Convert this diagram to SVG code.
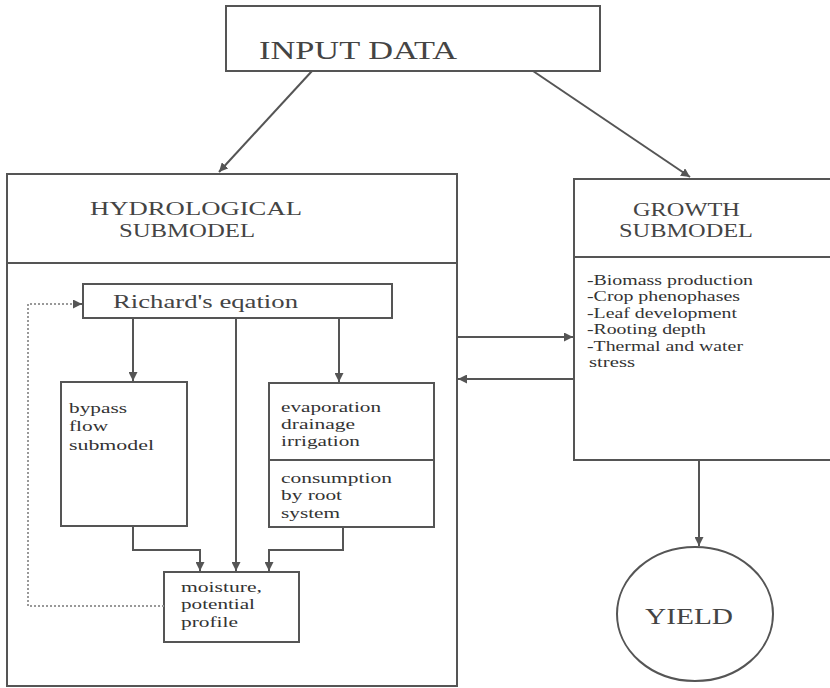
<svg xmlns="http://www.w3.org/2000/svg" width="830" height="688" viewBox="0 0 830 688">
<defs>
<marker id="ah" viewBox="0 0 10 10" refX="10" refY="5" markerWidth="9" markerHeight="9" markerUnits="userSpaceOnUse" orient="auto">
<path d="M0,0 L10,5 L0,10 z" fill="#555"/>
</marker>
</defs>
<style>
.box{fill:none;stroke:#555;stroke-width:2}
.ln{fill:none;stroke:#555;stroke-width:2}
.arr{fill:none;stroke:#555;stroke-width:2;marker-end:url(#ah)}
.dot{fill:none;stroke:#999;stroke-width:2;stroke-dasharray:2 2}
.t{font-family:"Liberation Serif",serif;fill:#444}
.big{font-size:19px}
.sm{font-size:15.5px;fill:#333}
.li{font-size:14.5px;fill:#333}
</style>
<rect width="830" height="688" fill="#fff"/>
<g id="input-data">
<rect class="box" x="226" y="6" width="374" height="65"/>
<text class="t" x="259" y="59" font-size="25" textLength="198" lengthAdjust="spacingAndGlyphs">INPUT DATA</text>
</g>
<g id="hydrological">
<rect class="box" x="7" y="174" width="450" height="512"/>
<line class="ln" x1="7" y1="263" x2="457" y2="263"/>
<text class="t big" x="90" y="215" textLength="212" lengthAdjust="spacingAndGlyphs">HYDROLOGICAL</text>
<text class="t big" x="119" y="237" textLength="136" lengthAdjust="spacingAndGlyphs">SUBMODEL</text>
</g>
<g id="richards">
<rect class="box" x="83" y="284" width="309" height="34"/>
<text class="t" x="113" y="308" font-size="19" textLength="185" lengthAdjust="spacingAndGlyphs">Richard's eqation</text>
</g>
<g id="bypass">
<rect class="box" x="61" y="382" width="126" height="144"/>
<text class="t sm" x="69" y="413" textLength="58" lengthAdjust="spacingAndGlyphs">bypass</text>
<text class="t sm" x="69" y="431" textLength="39" lengthAdjust="spacingAndGlyphs">flow</text>
<text class="t sm" x="69" y="450" textLength="85" lengthAdjust="spacingAndGlyphs">submodel</text>
</g>
<g id="evaporation">
<rect class="box" x="269" y="383" width="165" height="144"/>
<line class="ln" x1="269" y1="460" x2="434" y2="460"/>
<text class="t sm" x="281" y="412" textLength="100" lengthAdjust="spacingAndGlyphs">evaporation</text>
<text class="t sm" x="281" y="429" textLength="74" lengthAdjust="spacingAndGlyphs">drainage</text>
<text class="t sm" x="281" y="446" textLength="79" lengthAdjust="spacingAndGlyphs">irrigation</text>
<text class="t sm" x="281" y="483" textLength="111" lengthAdjust="spacingAndGlyphs">consumption</text>
<text class="t sm" x="281" y="500" textLength="61" lengthAdjust="spacingAndGlyphs">by root</text>
<text class="t sm" x="281" y="518" textLength="59" lengthAdjust="spacingAndGlyphs">system</text>
</g>
<g id="moisture">
<rect class="box" x="164" y="572" width="135" height="70"/>
<text class="t sm" x="181" y="592" textLength="81" lengthAdjust="spacingAndGlyphs">moisture,</text>
<text class="t sm" x="181" y="609" textLength="74" lengthAdjust="spacingAndGlyphs">potential</text>
<text class="t sm" x="181" y="627" textLength="57" lengthAdjust="spacingAndGlyphs">profile</text>
</g>
<g id="growth">
<rect class="box" x="574" y="179" width="260" height="281"/>
<line class="ln" x1="574" y1="257" x2="830" y2="257"/>
<text class="t big" x="633" y="216" textLength="107" lengthAdjust="spacingAndGlyphs">GROWTH</text>
<text class="t big" x="619" y="237" textLength="134" lengthAdjust="spacingAndGlyphs">SUBMODEL</text>
<text class="t li" x="587" y="285" textLength="166" lengthAdjust="spacingAndGlyphs">-Biomass production</text>
<text class="t li" x="587" y="301" textLength="153" lengthAdjust="spacingAndGlyphs">-Crop phenophases</text>
<text class="t li" x="587" y="318" textLength="150" lengthAdjust="spacingAndGlyphs">-Leaf development</text>
<text class="t li" x="587" y="334" textLength="119" lengthAdjust="spacingAndGlyphs">-Rooting depth</text>
<text class="t li" x="587" y="351" textLength="156" lengthAdjust="spacingAndGlyphs">-Thermal and water</text>
<text class="t li" x="589" y="367" textLength="46" lengthAdjust="spacingAndGlyphs">stress</text>
</g>
<g id="yield">
<ellipse class="box" cx="695" cy="614" rx="78" ry="67"/>
<text class="t" x="645" y="624" font-size="24" textLength="88" lengthAdjust="spacingAndGlyphs">YIELD</text>
</g>
<g id="connectors">
<line class="arr" x1="312" y1="71" x2="219" y2="172"/>
<line class="arr" x1="533" y1="71" x2="690" y2="177"/>
<line class="arr" x1="133" y1="318" x2="133" y2="381"/>
<line class="ln" x1="236" y1="318" x2="236" y2="571"/>
<path class="arr" d="M236,560 L236,571"/>
<line class="arr" x1="339" y1="318" x2="339" y2="382"/>
<path class="arr" d="M133,526 L133,550 L200,550 L200,571"/>
<path class="arr" d="M343,527 L343,550 L269,550 L269,571"/>
<path class="dot" d="M164,606 L28,606 L28,304 L75,304"/>
<line class="arr" x1="74" y1="304" x2="82" y2="304"/>
<line class="arr" x1="457" y1="337" x2="573" y2="337"/>
<line class="arr" x1="574" y1="379" x2="458" y2="379"/>
<line class="arr" x1="699" y1="460" x2="699" y2="546"/>
</g>
</svg>
